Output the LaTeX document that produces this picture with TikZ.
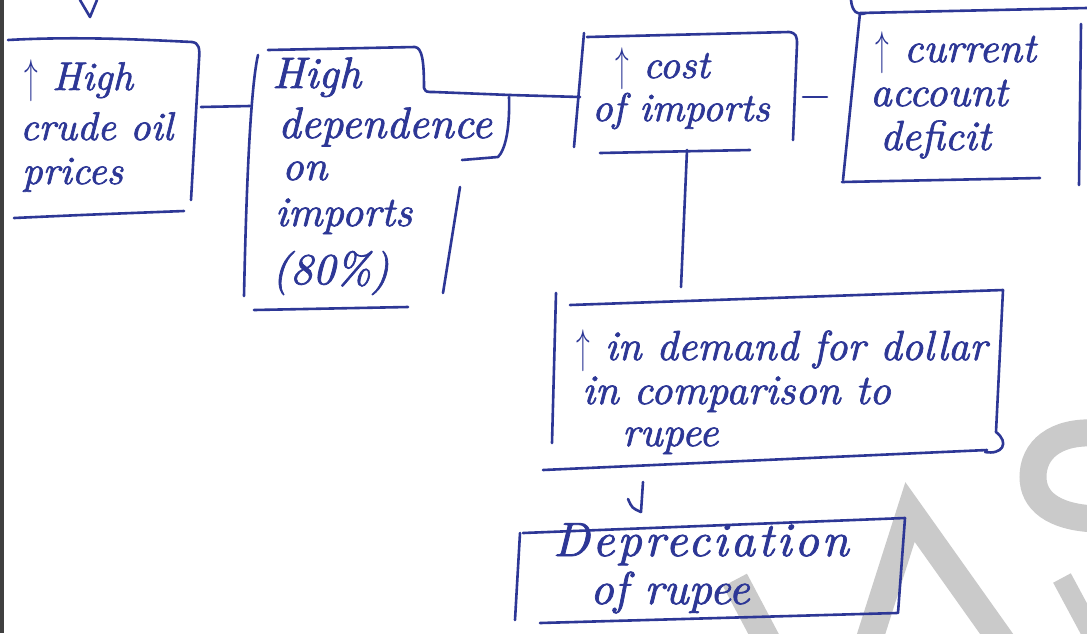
\documentclass[tikz,border=0pt]{standalone}
\usepackage{fontspec}
\newfontfamily\handfont{lmroman10-italic.otf}[FakeBold=1.6]
\definecolor{ink}{RGB}{45,55,150}
\definecolor{wmark}{RGB}{202,202,202}
% a tall, thin "increase" arrow
\newcommand{\upar}{\raisebox{-0.05em}{\scalebox{1.1}[1.9]{$\uparrow$}}}
\begin{document}
\begin{tikzpicture}[x=1pt,y=-1pt,
  pen/.style={draw=ink,line width=2.6pt,line cap=round,line join=round},
  hand/.style={text=ink,font=\handfont\fontsize{#1}{#1}\selectfont,inner sep=0pt,anchor=base west},
  hand/.default=40,
  wm/.style={draw=wmark,line width=27pt,line join=miter}]
\useasboundingbox (0,0) rectangle (1087,633);
\fill[white] (0,0) rectangle (1087,633);
\fill[black!75] (0,0) rectangle (4,633);

% faint watermark letters in the lower right
\begin{scope}
  \clip (0,0) rectangle (1087,633);
  \draw[wm] (866,650) -- (910,512) -- (1008,650);
  \draw[wm] (735,580) -- (772,650);
  \draw[wm] (1095,433) .. controls (1055,431) and (1033,450) .. (1033,477)
            .. controls (1033,500) and (1052,517) .. (1095,519);
  \draw[wmark,line width=20pt] (1062,578) -- (1098,645);
\end{scope}

% text of the boxes, line by line
\node[hand] (crude1) at (24,90) {\upar\ High};
\node[hand] (crude2) at (20,140) {crude oil};
\node[hand] (crude3) at (22,184) {prices};

\node[hand=44] (dep1) at (272,88) {High};
\node[hand=44] (dep2) at (278,138) {dependence};
\node[hand=42] (dep3) at (282,180) {on};
\node[hand=42] (dep4) at (275,226) {imports};
\node[hand=44] (dep5) at (272,284) {(80\%)};

\node[hand=40] (cost1) at (615,78) {\upar\ cost};
\node[hand=40] (cost2) at (592,121) {of imports};

\node[hand=42] (cad1) at (875,62) {\upar\ current};
\node[hand=42] (cad2) at (870,106) {account};
\node[hand=42] (cad3) at (880,150) {deficit};

\node[hand=42] (dol1) at (576,360) {\upar\ in demand for dollar};
\node[hand=42] (dol2) at (582,404) {in comparison to};
\node[hand=42] (dol3) at (622,446) {rupee};

\node[hand=48] (rup1) at (553,556) {\addfontfeatures{LetterSpace=6}Depreciation};
\node[hand=46] (rup2) at (590,604) {of rupee};

% hand-drawn box outlines
% crude oil prices
\draw[pen] (8,40) .. controls (80,36) and (150,40) .. (192,42)
           .. controls (199,43) and (200,48) .. (199,60) -- (191,200);
\draw[pen] (14,218) .. controls (80,215) .. (184,211);
\coordinate (crudeR) at (201,107);
% high dependence on imports
\draw[pen] (258,55) .. controls (250,90) and (246,200) .. (244,296);
\coordinate (depL) at (250,106);
\draw[pen] (268,50) -- (415,47) .. controls (422,48) and (424,60) .. (424,88)
           .. controls (426,92) .. (434,92) -- (510,95);
\coordinate (depR) at (510,95);
\draw[pen] (509,97) .. controls (510,130) and (505,150) .. (498,157) -- (462,160);
\draw[pen] (460,187) -- (443,293);
\draw[pen] (254,310) -- (408,307);
% cost of imports
\draw[pen] (584,33) -- (574,147);
\coordinate (costL) at (580,97);
\draw[pen] (587,37) -- (789,32) .. controls (796,33) and (797,36) .. (797,44) -- (793,140);
\draw[pen] (600,153) -- (750,150);
\coordinate (costR) at (803,97);
\coordinate (costB) at (687,150);
% current account deficit
\draw[pen] (1087,8) -- (860,13) -- (843,180);
\draw[pen] (842,182) -- (1040,178);
\draw[pen] (1081,24) -- (1079,185);
\coordinate (cadL) at (827,97);
% demand for dollar
\draw[pen] (556,293) -- (552,443);
\draw[pen] (570,305) -- (1003,290) -- (996,432)
           .. controls (1010,443) and (1002,455) .. (985,452);
\draw[pen] (543,470) -- (987,450);
\coordinate (dollarT) at (681,287);
\coordinate (dollarB) at (643,482);
% depreciation of rupee
\draw[pen] (523,533) -- (905,518) -- (898,613);
\draw[pen] (520,533) -- (515,620);
\draw[pen] (540,623) -- (897,613);
\coordinate (rupT) at (641,512);

% connectors between the boxes
\draw[pen] (crudeR) -- (depL);
\draw[pen] (depR) -- (costL);
\draw[pen] (costR) -- (cadL);
\draw[pen] (costB) -- (dollarT);
\draw[pen] (dollarB) -- (rupT);
\draw[pen] (628,499) .. controls (632,508) .. (rupT);

% ends of strokes coming from above
\draw[pen] (80,0) -- (90,17) -- (97,0);
\draw[pen] (851,0) .. controls (852,12) and (858,16) .. (866,13);
\end{tikzpicture}
\end{document}
